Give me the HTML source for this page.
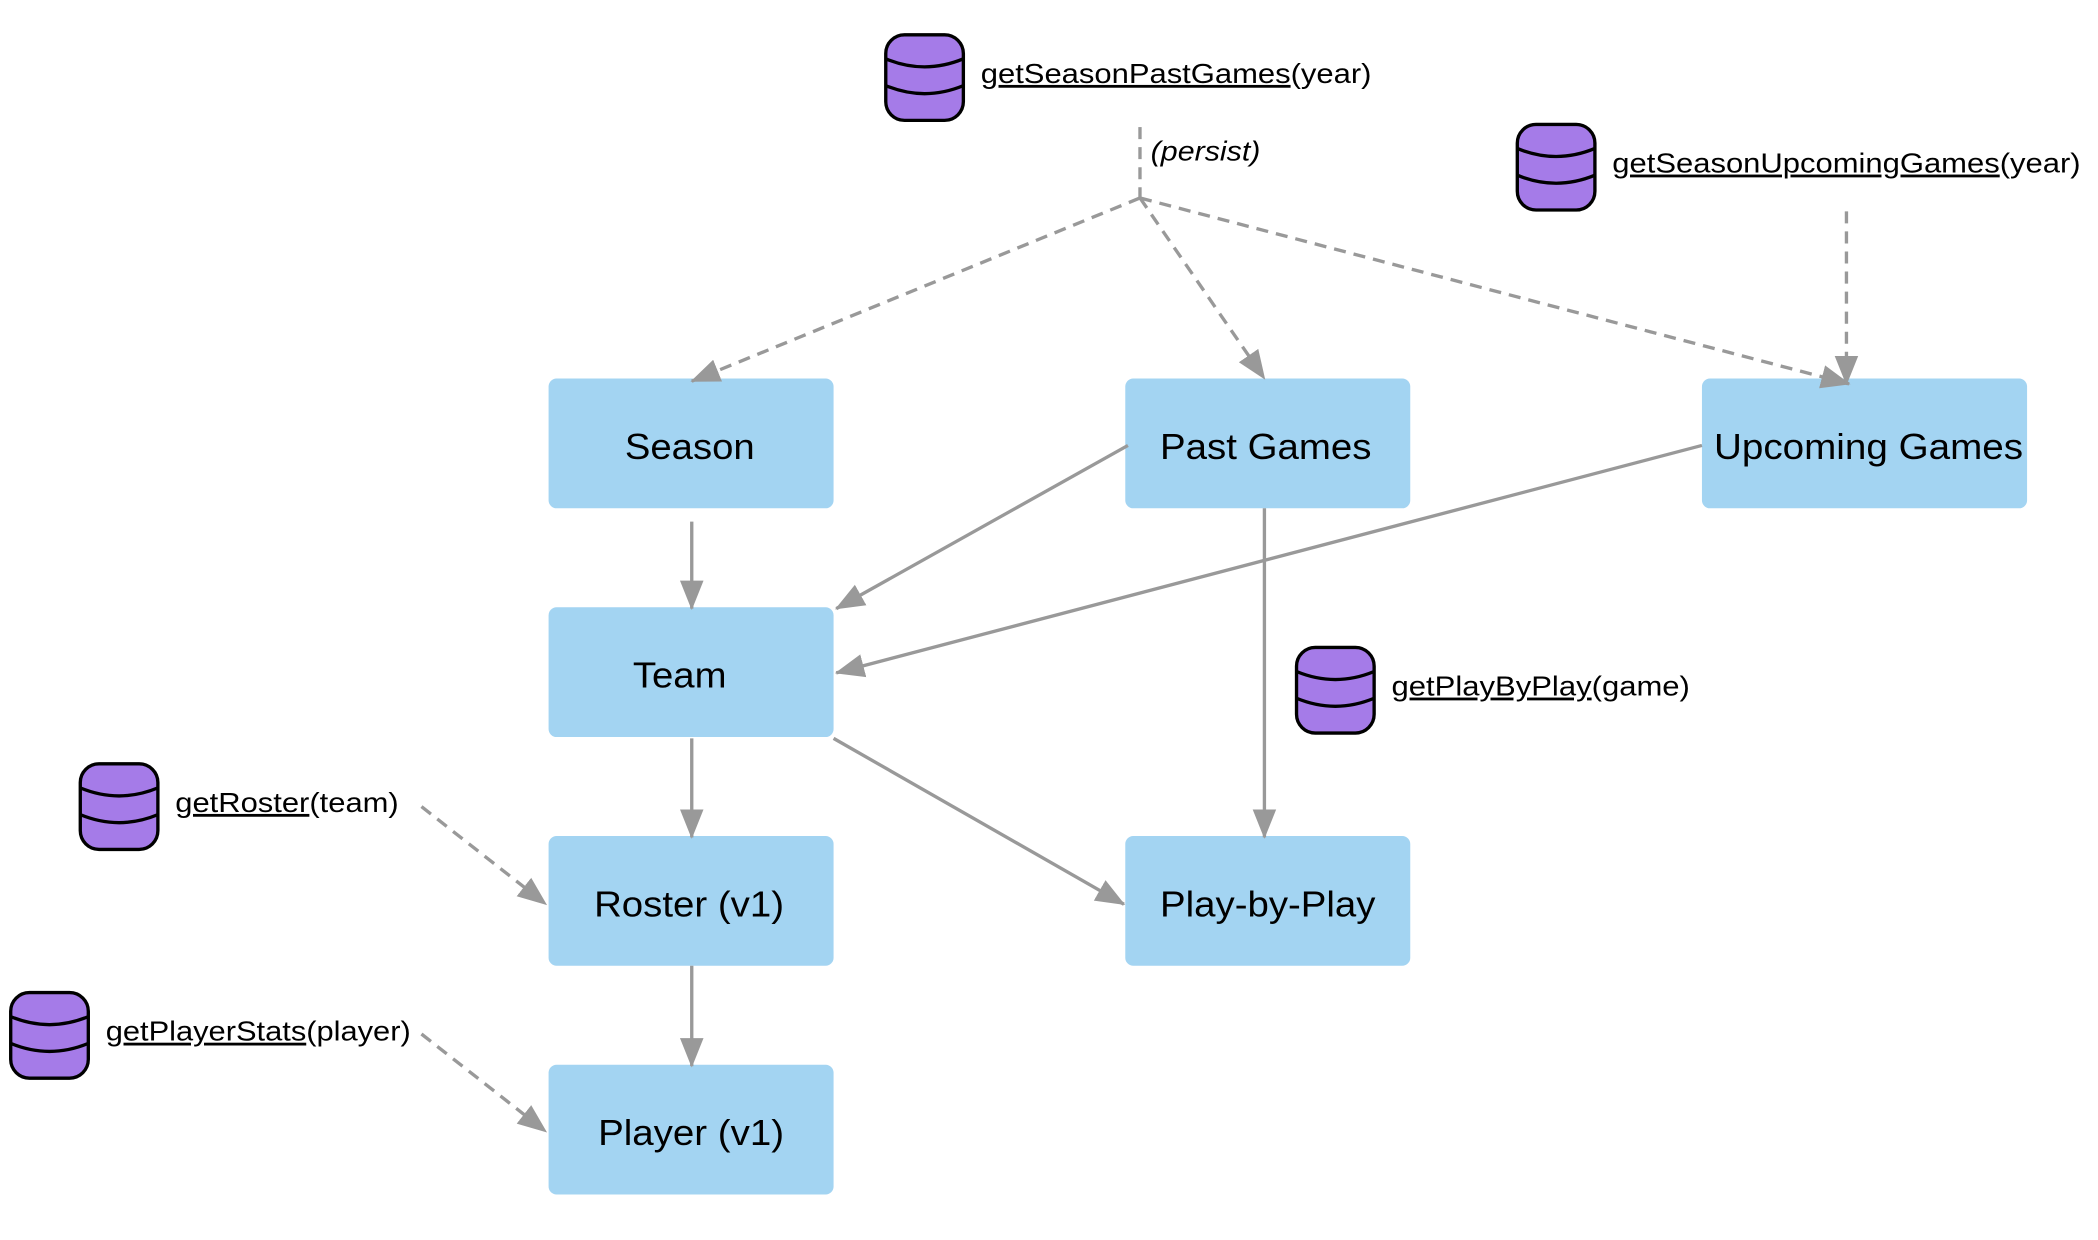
<!DOCTYPE html>
<html><head><meta charset="utf-8"><style>
html,body{margin:0;padding:0;background:#fff;}
svg{display:block;font-family:"Liberation Sans",Arial,sans-serif;}
</style></head><body>
<svg width="2098" height="1240" viewBox="0 0 1568 927" preserveAspectRatio="none" xmlns="http://www.w3.org/2000/svg">
<defs>
<marker id="ar" viewBox="0 0 20 20" refX="19" refY="10" markerWidth="22" markerHeight="22" markerUnits="userSpaceOnUse" orient="auto">
<path d="M0,2 L20,10 L0,18 Z" fill="#999"/>
</marker>
<g id="db">
<rect x="0" y="0" width="58" height="64" rx="14" fill="#a57be8" stroke="#000" stroke-width="2.5"/>
<path d="M0,18 Q29,30 58,18 M0,38 Q29,50 58,38" fill="none" stroke="#000" stroke-width="2.5"/>
</g>
</defs>
<g fill="#a3d4f2">
<rect x="410" y="283" width="213" height="97" rx="6"/>
<rect x="841" y="283" width="213" height="97" rx="6"/>
<rect x="1272" y="283" width="243" height="97" rx="6"/>
<rect x="410" y="454" width="213" height="97" rx="6"/>
<rect x="410" y="625" width="213" height="97" rx="6"/>
<rect x="841" y="625" width="213" height="97" rx="6"/>
<rect x="410" y="796" width="213" height="97" rx="6"/>
</g>
<g font-size="27" fill="#000" lengthAdjust="spacingAndGlyphs">
<text x="467" y="343" textLength="97" lengthAdjust="spacingAndGlyphs">Season</text>
<text x="867" y="343" textLength="158" lengthAdjust="spacingAndGlyphs">Past Games</text>
<text x="1281" y="343" textLength="231" lengthAdjust="spacingAndGlyphs">Upcoming Games</text>
<text x="473" y="514" textLength="70" lengthAdjust="spacingAndGlyphs">Team</text>
<text x="444" y="685" textLength="142" lengthAdjust="spacingAndGlyphs">Roster (v1)</text>
<text x="867" y="685" textLength="161" lengthAdjust="spacingAndGlyphs">Play-by-Play</text>
<text x="447" y="856" textLength="139" lengthAdjust="spacingAndGlyphs">Player (v1)</text>
</g>
<g stroke="#999" stroke-width="2.5" fill="none" marker-end="url(#ar)">
<line x1="517" y1="390" x2="517" y2="455"/>
<line x1="843" y1="333" x2="625" y2="455"/>
<line x1="1272" y1="333" x2="625" y2="503"/>
<line x1="945" y1="380" x2="945" y2="626"/>
<line x1="623" y1="552" x2="840" y2="676"/>
<line x1="517" y1="552" x2="517" y2="626"/>
<line x1="517" y1="722" x2="517" y2="797"/>
</g>
<g stroke="#999" stroke-width="2.5" fill="none" stroke-dasharray="9,6">
<line x1="852" y1="95" x2="852" y2="148"/>
<line x1="852" y1="148" x2="517" y2="285" marker-end="url(#ar)"/>
<line x1="852" y1="148" x2="945" y2="283" marker-end="url(#ar)"/>
<line x1="852" y1="148" x2="1382" y2="287" marker-end="url(#ar)"/>
<line x1="1380" y1="158" x2="1380" y2="287" marker-end="url(#ar)"/>
<line x1="315" y1="603" x2="408" y2="676" marker-end="url(#ar)"/>
<line x1="315" y1="773" x2="408" y2="846" marker-end="url(#ar)"/>
</g>
<use href="#db" x="662" y="26"/>
<use href="#db" x="1134" y="93"/>
<use href="#db" x="969" y="484"/>
<use href="#db" x="60" y="571"/>
<use href="#db" x="8" y="742"/>
<g font-size="21" fill="#000">
<text x="733" y="62" textLength="292" lengthAdjust="spacingAndGlyphs"><tspan text-decoration="underline">getSeasonPastGames</tspan>(year)</text>
<text x="1205" y="129" textLength="350" lengthAdjust="spacingAndGlyphs"><tspan text-decoration="underline">getSeasonUpcomingGames</tspan>(year)</text>
<text x="1040" y="520" textLength="223" lengthAdjust="spacingAndGlyphs"><tspan text-decoration="underline">getPlayByPlay</tspan>(game)</text>
<text x="131" y="607" textLength="167" lengthAdjust="spacingAndGlyphs"><tspan text-decoration="underline">getRoster</tspan>(team)</text>
<text x="79" y="778" textLength="228" lengthAdjust="spacingAndGlyphs"><tspan text-decoration="underline">getPlayerStats</tspan>(player)</text>
<text x="860" y="120" font-style="italic" textLength="82" lengthAdjust="spacingAndGlyphs">(persist)</text>
</g>
</svg>
</body></html>
